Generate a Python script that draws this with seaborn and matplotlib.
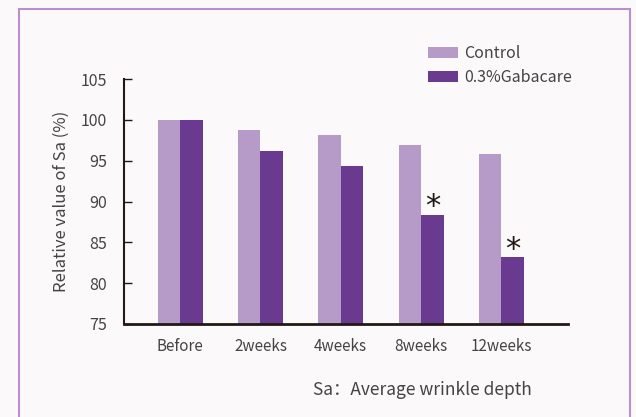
import matplotlib
matplotlib.use("Agg")
import matplotlib.pyplot as plt
import seaborn as sns
import pandas as pd
from matplotlib.patches import Rectangle

categories = ["Before", "2weeks", "4weeks", "8weeks", "12weeks"]
control = [100, 98.8, 98.2, 96.9, 95.8]
gabacare = [100, 96.2, 94.4, 88.4, 83.2]
series_names = ["Control", "0.3%Gabacare"]
significant = [False, False, False, True, True]

sns.set_theme(style="white")
plt.rcParams['font.family'] = ['Noto Sans CJK SC', 'DejaVu Sans']

df = pd.DataFrame({
    "cat": categories * 2,
    "val": control + gabacare,
    "group": [series_names[0]] * len(categories) + [series_names[1]] * len(categories),
})

fig = plt.figure(figsize=(6.36, 4.17), dpi=100)
fig.patch.set_facecolor("#fbf9fa")
fig.add_artist(Rectangle((19/636, -0.05), (630-19)/636, 1 - 9/417 + 0.05,
                         transform=fig.transFigure, fill=False,
                         edgecolor="#b98fcd", linewidth=1.5))

ax = fig.add_axes([124/636, 1-324/417, (568-124)/636, (324-79)/417])
ax.set_facecolor("none")
palette = {series_names[0]: "#b69ac8", series_names[1]: "#6a3a90"}
sns.barplot(data=df, x="cat", y="val", hue="group", palette=palette,
            width=0.56, dodge=True, ax=ax, saturation=1, legend=True,
            linewidth=0)

ax.set_ylim(75, 105)
ax.set_xlim(-0.7, 4.83)
ax.set_yticks([75, 80, 85, 90, 95, 100, 105])
for s in ["top", "right"]:
    ax.spines[s].set_visible(False)
ax.spines["left"].set_color("#231815")
ax.spines["bottom"].set_color("#231815")
ax.spines["left"].set_linewidth(1.5)
ax.spines["bottom"].set_linewidth(2)
ax.tick_params(axis="y", direction="in", left=True, length=6, width=1,
               color="#231815", labelsize=11.5, labelcolor="#444444", pad=12)
ax.tick_params(axis="x", bottom=False, labelsize=11, labelcolor="#444444", pad=4)
ax.set_xlabel("")
ax.set_ylabel("Relative value of Sa (%)", fontsize=12, color="#444444", labelpad=8)

# asterisks
bar_w = 0.56 / 2
for i, (g, sig) in enumerate(zip(gabacare, significant)):
    if sig:
        ax.text(i + bar_w / 2, g - 0.1, "*", ha="center", va="baseline",
                fontsize=22, color="#231815", family="DejaVu Sans")

handles, labels = ax.get_legend_handles_labels()
ax.legend(handles, labels, loc="upper left", bbox_to_anchor=(414/636, 1-31/417),
          bbox_transform=fig.transFigure, frameon=False, fontsize=11.5,
          handlelength=1.85, handleheight=0.7, handletextpad=0.4,
          labelspacing=0.4, labelcolor="#444444")

fig.text(313/636, 1-390/417, "Sa：Average wrinkle depth", fontsize=12.5,
         color="#444444", va="center", ha="left")

fig.savefig("out.png", dpi=100, facecolor=fig.get_facecolor())
